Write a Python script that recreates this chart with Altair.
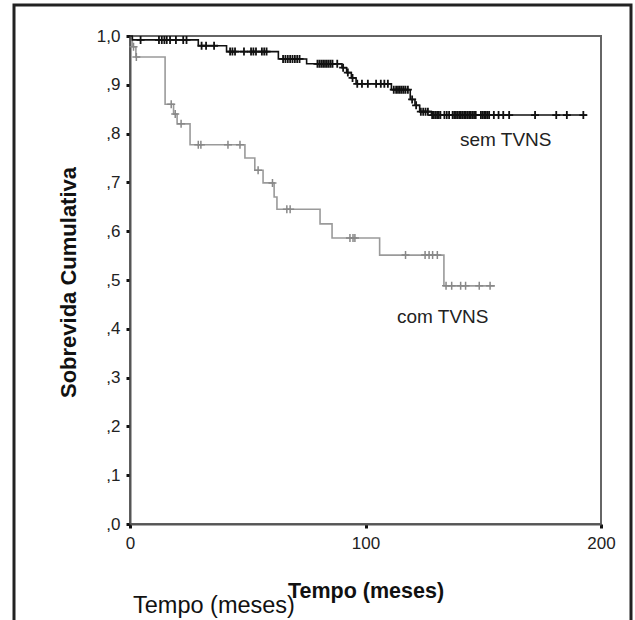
import altair as alt
import numpy as np
import pandas as pd

# ---- data (Kaplan-Meier curves) ----
# "sem TVNS" (black) : event times (months) and survival after the event
sem_event_t = [1, 29, 41, 63, 75, 90, 92, 94, 96, 111, 119, 121, 123, 128]
sem_event_s = [0.992, 0.980, 0.968, 0.953, 0.943, 0.935, 0.925, 0.914, 0.902,
               0.890, 0.870, 0.858, 0.845, 0.838]
sem_end = 194
sem_cens_t = [4.5, 12.3, 13.5, 14.6, 15.6, 17, 19.5, 22.6, 24, 30.4, 32.3, 35.7,
              42.5, 43.5, 44.6, 48.4, 51.4, 52.4, 53.5, 56, 57, 58,
              65, 66, 67, 68, 69, 70, 71, 72,
              79.6, 80.4, 81.2, 82, 82.8, 83.6, 84.4, 85.2, 86, 88,
              90.5, 92.5, 94.5, 96.5, 98.5, 101, 104.5, 106.5, 108, 109.5,
              112, 113, 113.8, 114.6, 115.4, 116.2, 117, 118,
              119.8, 121.5, 123.5, 124.5, 125.5, 126.5,
              128.3, 129, 129.7, 130.4, 131.1, 131.8, 133.5, 134.5, 135.5,
              137, 137.7, 138.4, 139.1, 139.8, 140.5, 141.2, 141.9, 142.6,
              143.3, 144, 144.7, 145.4, 146.1, 146.8,
              149, 149.7, 150.4, 151.1, 151.8, 152.5, 154.5, 156.5, 158.5, 161,
              172, 181, 185.5, 192.5]

# "com TVNS" (grey)
com_event_t = [1, 2.5, 14.9, 18.5, 20, 25.5, 48.8, 53, 56.5, 61.2, 62.4,
               80.7, 85.8, 106, 133.3]
com_event_s = [0.978, 0.957, 0.860, 0.840, 0.820, 0.777, 0.750, 0.725, 0.699,
               0.670, 0.645, 0.615, 0.586, 0.551, 0.488]
com_end = 155
com_cens_t = [1.5, 2.7, 17.5, 19.2, 21.7, 29, 30.1, 41.6, 46.7, 54.4, 60.5,
              66.6, 68, 93.4, 94.7, 95.5, 117, 125.3, 127, 128.5, 130.5,
              134.2, 136.6, 140.4, 142.5, 148.3, 152.9]

x_ticks = [0, 100, 200]
y_ticks = [0, 0.1, 0.2, 0.3, 0.4, 0.5, 0.6, 0.7, 0.8, 0.9, 1.0]


def step_df(ev_t, ev_s, end):
    t = [0] + list(ev_t) + [end]
    s = [1.0] + list(ev_s) + [ev_s[-1]]
    return pd.DataFrame({"t": t, "s": s})


def cens_df(ev_t, ev_s, cens):
    idx = np.searchsorted(np.array(ev_t), np.array(cens), side="right") - 1
    s = [1.0 if i < 0 else ev_s[i] for i in idx]
    return pd.DataFrame({"t": cens, "s": s})


FONT = "Liberation Sans"
GREY = "#9a9a9a"
BLACK = "#111111"
PLUS = "M0,-1L0,1M-1,0L1,0"

xs = alt.Scale(domain=[0, 200], nice=False, zero=False)
ys = alt.Scale(domain=[0, 1], nice=False)

x_axis = alt.Axis(values=x_ticks, title="Tempo (meses)", grid=False,
                  labelFlush=False, labelOverlap=False,
                  labelFont=FONT, labelFontSize=17, labelColor="#222",
                  labelPadding=7, tickSize=4, tickWidth=3, tickColor=BLACK,
                  domainColor="#555", domainWidth=2,
                  titleFont=FONT, titleFontSize=21.5, titleFontWeight="bold",
                  titleColor=BLACK, titleY=73, titleBaseline="alphabetic")
y_axis = alt.Axis(values=y_ticks, title="Sobrevida Cumulativa", grid=False,
                  labelFlush=False, labelOverlap=False,
                  labelExpr="datum.value >= 1 ? '1,0' : replace(format(datum.value, '.1f'), '0.', ',')",
                  labelFont=FONT, labelFontSize=17, labelColor="#222",
                  labelPadding=6, tickSize=4, tickWidth=3, tickColor=BLACK,
                  domainColor="#555", domainWidth=2,
                  titleFont=FONT, titleFontSize=22, titleFontWeight="bold",
                  titleColor=BLACK, titleAngle=270, titleX=-55, titleY=246,
                  titleAlign="center", titleBaseline="alphabetic")

X = alt.X("t:Q", scale=xs, axis=x_axis)
Y = alt.Y("s:Q", scale=ys, axis=y_axis)
Xn = alt.X("t:Q", scale=xs)
Yn = alt.Y("s:Q", scale=ys)

com_line = alt.Chart(step_df(com_event_t, com_event_s, com_end)).mark_line(
    interpolate="step-after", color=GREY, strokeWidth=1.6).encode(x=X, y=Y)
sem_line = alt.Chart(step_df(sem_event_t, sem_event_s, sem_end)).mark_line(
    interpolate="step-after", color=BLACK, strokeWidth=1.6).encode(x=Xn, y=Yn)

com_pts = alt.Chart(cens_df(com_event_t, com_event_s, com_cens_t)).mark_point(
    shape=PLUS, size=64, filled=False, color="#888", strokeWidth=1.5,
    opacity=1).encode(x=Xn, y=Yn)
sem_pts = alt.Chart(cens_df(sem_event_t, sem_event_s, sem_cens_t)).mark_point(
    shape=PLUS, size=64, filled=False, color=BLACK, strokeWidth=1.8,
    opacity=1).encode(x=Xn, y=Yn)

one = pd.DataFrame({"k": [0]})
lab_sem = alt.Chart(one).mark_text(text="sem TVNS", font=FONT, fontSize=19,
                                   align="left", baseline="middle",
                                   color="#222").encode(
    x=alt.value(330), y=alt.value(104))
lab_com = alt.Chart(one).mark_text(text="com TVNS", font=FONT, fontSize=19,
                                   align="left", baseline="middle",
                                   color="#222").encode(
    x=alt.value(267), y=alt.value(281))
lab_tempo = alt.Chart(one).mark_text(text="Tempo (meses)", font=FONT,
                                     fontSize=23.5, align="left",
                                     baseline="alphabetic",
                                     color="#111").encode(
    x=alt.value(3), y=alt.value(577))
frame = alt.Chart(one).mark_rect(fill=None, stroke="#222",
                                 strokeWidth=3).encode(
    x=alt.value(-116), x2=alt.value(501), y=alt.value(-31), y2=alt.value(600))

chart = alt.layer(com_line, sem_line, com_pts, sem_pts, lab_sem, lab_com,
                  lab_tempo, frame).properties(
    width=471, height=488,
    autosize=alt.AutoSizeParams(type="none"),
    padding={"left": 130, "top": 36, "right": 34, "bottom": 96},
    background="white",
).configure_view(stroke="#666", strokeWidth=2)

chart.save("out.html", embed_options={"renderer": "svg", "actions": False})
